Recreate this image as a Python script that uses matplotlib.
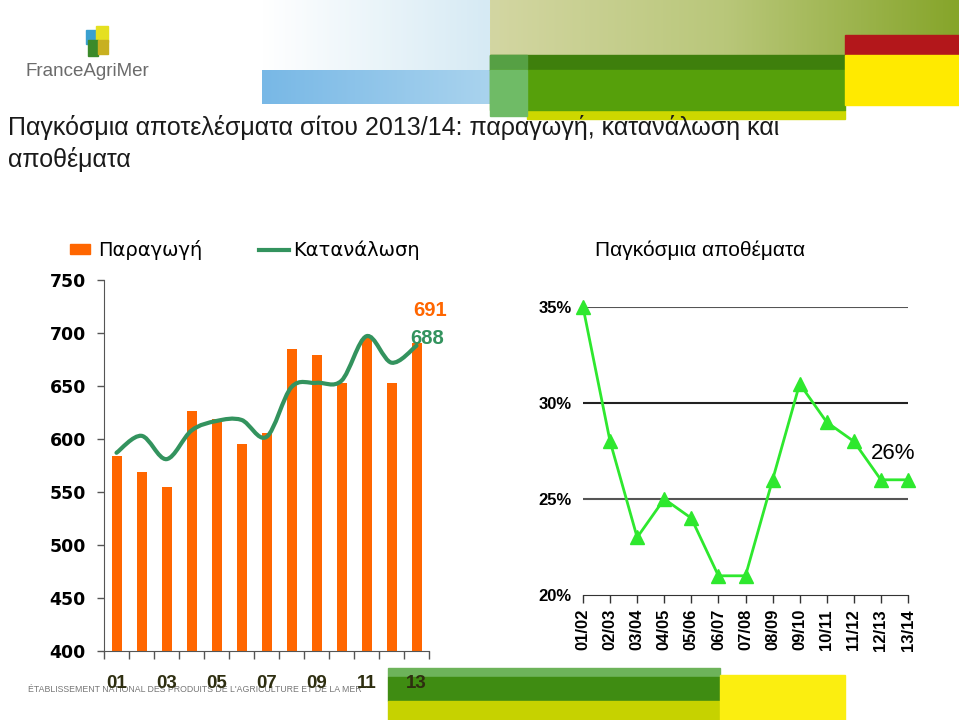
import numpy as np
import matplotlib.pyplot as plt
from matplotlib.path import Path
from matplotlib.patches import PathPatch, Rectangle
from matplotlib.colors import LinearSegmentedColormap

plt.rcParams['font.family'] = ['Liberation Sans', 'DejaVu Sans']

# left chart: world wheat production / consumption (Mt)
years = ['01', '02', '03', '04', '05', '06', '07', '08', '09', '10', '11', '12', '13']
production = [584, 569, 555, 626, 619, 595, 606, 685, 679, 653, 696, 653, 691]
consumption = [587, 603, 581, 608, 617, 618, 602, 649, 653, 655, 697, 672, 688]

# right chart: world stocks as share of consumption (%)
seasons = ['01/02', '02/03', '03/04', '04/05', '05/06', '06/07', '07/08',
           '08/09', '09/10', '10/11', '11/12', '12/13', '13/14']
stocks = [35, 28, 23, 25, 24, 21, 21, 26, 31, 29, 28, 26, 26]

ORANGE = '#ff6600'
SEAGREEN = '#33935e'
LIME = '#2ee82e'

W, H = 959, 720
fig = plt.figure(figsize=(W / 100, H / 100), dpi=100)


def fx(px):
    return px / W


def fy(py):
    return 1 - py / H


# ---- decorative header / footer (pixel coords) ----
bg = fig.add_axes([0, 0, 1, 1], zorder=-5)
grad = np.linspace(0, 1, 200)[None, :]
sky = LinearSegmentedColormap.from_list('sky', ['#ffffff', '#d6eaf4'])
bg.imshow(grad, cmap=sky, extent=(262, 490, 70, 0), aspect='auto')
blue = LinearSegmentedColormap.from_list('blue', ['#78b8e6', '#a9d3ee'])
bg.imshow(grad, cmap=blue, extent=(262, 490, 104, 70), aspect='auto')
olive = LinearSegmentedColormap.from_list('olive', ['#d3d6a2', '#b9c77a', '#86a52a'])
bg.imshow(grad, cmap=olive, extent=(490, 959, 55, 0), aspect='auto')
bg.add_patch(Rectangle((845, 35), 114, 20, color='#b3171b'))
bg.add_patch(Rectangle((527, 110), 318, 9, color='#cdd800'))
bg.add_patch(Rectangle((490, 55), 355, 15, color='#3e7f0c'))
bg.add_patch(Rectangle((490, 55), 37, 15, color='#56a044'))
bg.add_patch(Rectangle((490, 70), 355, 40, color='#56a00b'))
bg.add_patch(Rectangle((490, 70), 37, 46, color='#6fbb66'))
bg.add_patch(Rectangle((845, 55), 114, 50, color='#ffea00'))
bg.set_xlim(0, W)
bg.set_ylim(H, 0)
bg.axis('off')

# logo
bg.add_patch(Rectangle((86, 30), 12, 14, color='#3aa0d0'))
bg.add_patch(Rectangle((96, 26), 12, 16, color='#e5e020'))
bg.add_patch(Rectangle((88, 40), 10, 16, color='#3b8a2a'))
bg.add_patch(Rectangle((98, 40), 10, 14, color='#c8b020'))
bg.text(87, 72, 'FranceAgriMer', color='#6b6b6b', fontsize=13.5,
        ha='center', va='center')

# footer
bg.text(28, 689, "ÉTABLISSEMENT NATIONAL DES PRODUITS DE L'AGRICULTURE ET DE LA MER",
        color='#777777', fontsize=6.3, ha='left', va='center')
bg.add_patch(Rectangle((388, 668), 332, 9, color='#6db35a'))
bg.add_patch(Rectangle((388, 677), 332, 24, color='#3f8c12'))
bg.add_patch(Rectangle((388, 701), 332, 19, color='#c6d200'))
bg.add_patch(Rectangle((720, 675), 125, 45, color='#fbee10'))

# title
fig.text(fx(8), fy(128), 'Παγκόσμια αποτελέσματα σίτου 2013/14: παραγωγή, κατανάλωση και',
         fontsize=18, color='#1a1a1a', ha='left', va='center', zorder=5)
fig.text(fx(8), fy(160), 'αποθέματα', fontsize=18, color='#1a1a1a',
         ha='left', va='center')

# ---- left chart ----
ax1 = fig.add_axes([fx(104), fy(651), fx(429 - 104), fy(280) - fy(651)])
x = np.arange(len(years))
ax1.bar(x, production, width=0.4, color=ORANGE, zorder=2)


def smooth_path(xs, ys, t=1 / 6):
    pts = np.column_stack([xs, ys]).astype(float)
    verts = [pts[0]]
    codes = [Path.MOVETO]
    n = len(pts)
    for i in range(n - 1):
        p0 = pts[max(i - 1, 0)]
        p1 = pts[i]
        p2 = pts[i + 1]
        p3 = pts[min(i + 2, n - 1)]
        verts += [p1 + (p2 - p0) * t, p2 - (p3 - p1) * t, p2]
        codes += [Path.CURVE4] * 3
    return Path(verts, codes)


ax1.add_patch(PathPatch(smooth_path(x, consumption), fill=False,
                        edgecolor=SEAGREEN, lw=3, zorder=3, capstyle='round'))

ax1.set_xlim(-0.5, len(years) - 0.5)
ax1.set_ylim(400, 750)
ax1.set_yticks(np.arange(400, 751, 50))
ax1.set_yticklabels([str(v) for v in range(400, 751, 50)], fontsize=12.5,
                    fontweight='bold', family='DejaVu Sans')
ax1.tick_params(axis='y', length=5, width=1, color='#555555', pad=8)
ax1.set_xticks(x[::2])
ax1.set_xticklabels(years[::2], fontsize=13.5, fontweight='bold', color='#2e2e10')
ax1.set_xticks(np.arange(-0.5, len(years), 1), minor=True)
ax1.tick_params(axis='x', which='major', length=0, pad=17)
ax1.tick_params(axis='x', which='minor', length=6, width=1, color='#555555')
for s in ['top', 'right']:
    ax1.spines[s].set_visible(False)
ax1.spines['left'].set_color('#555555')
ax1.spines['bottom'].set_color('#555555')
ax1.patch.set_alpha(0)

ax1.annotate(str(production[-1]), (len(years) - 1, production[-1]),
             xytext=(10, 23), textcoords='offset points', color=ORANGE,
             fontsize=14.5, fontweight='bold', ha='center', va='center',
             annotation_clip=False)
ax1.annotate(str(consumption[-1]), (len(years) - 1, consumption[-1]),
             xytext=(8, 5), textcoords='offset points', color=SEAGREEN,
             fontsize=14.5, fontweight='bold', ha='center', va='center',
             annotation_clip=False)

# legend
fig.patches.append(Rectangle((fx(70), fy(254)), fx(20), fy(244) - fy(254),
                             color=ORANGE, transform=fig.transFigure, figure=fig))
fig.text(fx(98), fy(250), 'Παραγωγή', fontsize=14, family='DejaVu Sans',
         ha='left', va='center')
fig.lines.append(plt.Line2D([fx(259), fx(289)], [fy(250), fy(250)],
                            color=SEAGREEN, lw=3, transform=fig.transFigure))
fig.text(fx(293), fy(250), 'Κατανάλωση', fontsize=14, family='DejaVu Sans',
         ha='left', va='center')

# ---- right chart ----
ax2 = fig.add_axes([fx(583), fy(595), fx(908 - 583), fy(307) - fy(595)])
xr = np.arange(len(seasons))
ax2.plot(xr, stocks, color=LIME, lw=2, marker='^', markersize=10,
         markerfacecolor=LIME, markeredgecolor=LIME, clip_on=False, zorder=3)
ax2.set_xlim(0, len(seasons) - 1)
ax2.set_ylim(20, 35)
ax2.set_yticks([20, 25, 30, 35])
ax2.set_yticklabels(['%d%%' % v for v in [20, 25, 30, 35]], fontsize=12,
                    fontweight='bold')
ax2.tick_params(axis='y', length=0, pad=8)
for v, c in [(25, '#555555'), (30, '#222222'), (35, '#555555')]:
    ax2.axhline(v, color=c, lw=1.5, zorder=1)
ax2.set_xticks(xr)
ax2.set_xticklabels(seasons, rotation=90, fontsize=12, fontweight='bold')
ax2.tick_params(axis='x', length=6, width=1, color='#333333', pad=4)
for s in ['top', 'right', 'left']:
    ax2.spines[s].set_visible(False)
ax2.spines['bottom'].set_color('#333333')
ax2.patch.set_alpha(0)
ax2.annotate('%d%%' % stocks[-1], (len(seasons) - 1, stocks[-1]),
             xytext=(-11, 19), textcoords='offset points', fontsize=16,
             ha='center', va='center', color='#000000')
ax2.set_title('Παγκόσμια αποθέματα', fontsize=15, pad=37, x=0.36)

fig.savefig('out.png', dpi=100)
